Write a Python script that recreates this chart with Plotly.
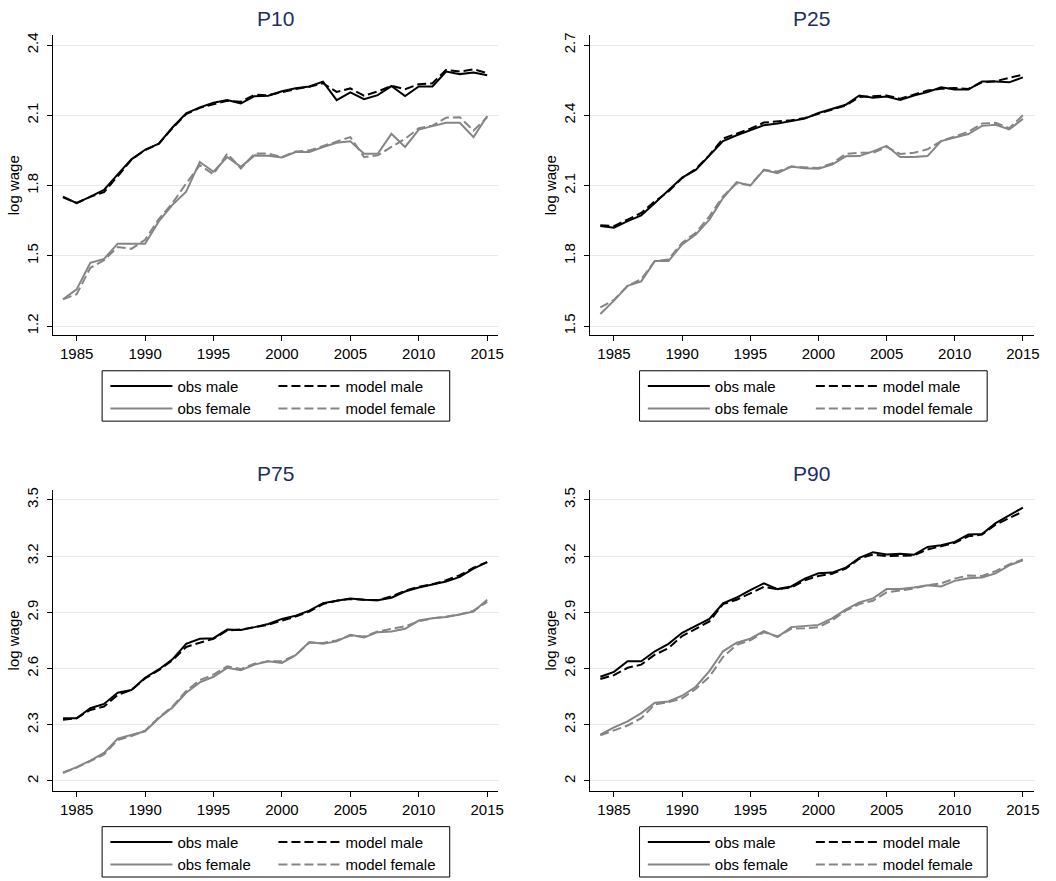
import plotly.graph_objects as go

# ---------------------------------------------------------------------------
# Data: log wage percentiles by year, observed vs. model, male vs. female
# ---------------------------------------------------------------------------
years = list(range(1984, 2016))

p10_obs_male = [1.753, 1.725, 1.753, 1.782, 1.848, 1.912, 1.953, 1.979, 2.048, 2.109,
                2.134, 2.154, 2.165, 2.151, 2.182, 2.184, 2.203, 2.216, 2.223, 2.244,
                2.165, 2.198, 2.169, 2.186, 2.225, 2.182, 2.223, 2.223, 2.287, 2.276,
                2.283, 2.271]
p10_model_male = [1.750, 1.726, 1.752, 1.772, 1.840, 1.910, 1.952, 1.978, 2.045, 2.105,
                  2.132, 2.148, 2.162, 2.158, 2.188, 2.186, 2.200, 2.212, 2.222, 2.237,
                  2.200, 2.215, 2.184, 2.202, 2.226, 2.212, 2.233, 2.237, 2.294, 2.287,
                  2.297, 2.280]
p10_obs_female = [1.315, 1.357, 1.470, 1.487, 1.552, 1.552, 1.552, 1.647, 1.718, 1.774,
                  1.901, 1.859, 1.922, 1.880, 1.929, 1.927, 1.920, 1.943, 1.943, 1.965,
                  1.983, 1.989, 1.936, 1.936, 2.021, 1.965, 2.039, 2.054, 2.068, 2.068,
                  2.007, 2.097]
p10_model_female = [1.315, 1.336, 1.449, 1.482, 1.538, 1.530, 1.569, 1.657, 1.725, 1.809,
                    1.887, 1.848, 1.937, 1.873, 1.937, 1.937, 1.922, 1.946, 1.950, 1.969,
                    1.989, 2.007, 1.922, 1.929, 1.965, 2.000, 2.045, 2.056, 2.090, 2.092,
                    2.035, 2.092]

p25_obs_male = [1.927, 1.920, 1.948, 1.973, 2.026, 2.078, 2.134, 2.167, 2.230, 2.290,
                2.315, 2.336, 2.358, 2.365, 2.375, 2.386, 2.410, 2.428, 2.445, 2.485,
                2.475, 2.480, 2.466, 2.485, 2.499, 2.520, 2.510, 2.510, 2.544, 2.544,
                2.541, 2.562]
p25_model_male = [1.931, 1.927, 1.955, 1.983, 2.033, 2.075, 2.132, 2.171, 2.230, 2.301,
                  2.322, 2.343, 2.369, 2.375, 2.379, 2.389, 2.406, 2.425, 2.442, 2.478,
                  2.480, 2.485, 2.471, 2.489, 2.506, 2.513, 2.517, 2.513, 2.541, 2.546,
                  2.560, 2.574]
p25_obs_female = [1.552, 1.609, 1.672, 1.691, 1.778, 1.778, 1.849, 1.891, 1.955, 2.047,
                  2.115, 2.100, 2.167, 2.153, 2.181, 2.174, 2.172, 2.190, 2.225, 2.226,
                  2.246, 2.270, 2.222, 2.222, 2.226, 2.290, 2.305, 2.320, 2.355, 2.360,
                  2.340, 2.385]
p25_model_female = [1.580, 1.612, 1.672, 1.700, 1.778, 1.785, 1.856, 1.898, 1.969, 2.054,
                    2.110, 2.103, 2.167, 2.160, 2.181, 2.177, 2.175, 2.195, 2.235, 2.240,
                    2.240, 2.265, 2.235, 2.240, 2.255, 2.290, 2.310, 2.330, 2.365, 2.368,
                    2.345, 2.400]

p75_obs_male = [2.335, 2.335, 2.388, 2.411, 2.471, 2.485, 2.551, 2.595, 2.649, 2.732,
                2.759, 2.762, 2.808, 2.806, 2.821, 2.838, 2.865, 2.882, 2.909, 2.949,
                2.962, 2.974, 2.967, 2.964, 2.978, 3.011, 3.032, 3.046, 3.064, 3.089,
                3.133, 3.168]
p75_model_male = [2.326, 2.335, 2.379, 2.397, 2.459, 2.485, 2.547, 2.591, 2.644, 2.715,
                  2.738, 2.759, 2.803, 2.808, 2.821, 2.833, 2.856, 2.877, 2.904, 2.944,
                  2.962, 2.971, 2.967, 2.965, 2.985, 3.015, 3.036, 3.050, 3.071, 3.098,
                  3.138, 3.168]
p75_obs_female = [2.044, 2.074, 2.109, 2.150, 2.226, 2.244, 2.265, 2.335, 2.392, 2.471,
                  2.526, 2.556, 2.604, 2.591, 2.621, 2.639, 2.630, 2.671, 2.741, 2.732,
                  2.745, 2.780, 2.766, 2.794, 2.798, 2.812, 2.856, 2.868, 2.875, 2.888,
                  2.904, 2.967]
p75_model_female = [2.044, 2.071, 2.106, 2.141, 2.219, 2.240, 2.268, 2.339, 2.397, 2.480,
                    2.538, 2.568, 2.612, 2.597, 2.626, 2.639, 2.639, 2.671, 2.738, 2.736,
                    2.750, 2.776, 2.771, 2.798, 2.812, 2.826, 2.852, 2.868, 2.877, 2.889,
                    2.909, 2.956]

p90_obs_male = [2.556, 2.582, 2.639, 2.639, 2.692, 2.732, 2.791, 2.826, 2.865, 2.948,
                2.979, 3.018, 3.055, 3.024, 3.038, 3.080, 3.108, 3.112, 3.138, 3.191,
                3.221, 3.209, 3.212, 3.207, 3.249, 3.258, 3.276, 3.315, 3.318, 3.376,
                3.417, 3.459]
p90_model_male = [2.544, 2.565, 2.604, 2.621, 2.674, 2.709, 2.773, 2.812, 2.851, 2.944,
                  2.967, 3.001, 3.036, 3.024, 3.032, 3.071, 3.094, 3.106, 3.133, 3.186,
                  3.209, 3.200, 3.204, 3.204, 3.235, 3.253, 3.271, 3.306, 3.315, 3.368,
                  3.403, 3.438]
p90_obs_female = [2.247, 2.286, 2.318, 2.362, 2.418, 2.424, 2.455, 2.503, 2.586, 2.692,
                  2.738, 2.759, 2.800, 2.768, 2.821, 2.826, 2.833, 2.868, 2.914, 2.953,
                  2.974, 3.024, 3.024, 3.032, 3.045, 3.038, 3.068, 3.082, 3.086, 3.108,
                  3.151, 3.177]
p90_model_female = [2.244, 2.268, 2.296, 2.335, 2.409, 2.420, 2.441, 2.491, 2.556, 2.662,
                    2.727, 2.750, 2.794, 2.771, 2.812, 2.815, 2.821, 2.856, 2.909, 2.944,
                    2.962, 3.006, 3.015, 3.027, 3.045, 3.055, 3.080, 3.097, 3.094, 3.120,
                    3.156, 3.182]

x_ticks = [1985, 1990, 1995, 2000, 2005, 2010, 2015]
y_ticks_p10 = [1.2, 1.5, 1.8, 2.1, 2.4]
y_ticks_p25 = [1.5, 1.8, 2.1, 2.4, 2.7]
y_ticks_upper = [2, 2.3, 2.6, 2.9, 3.2, 3.5]

series_names = ["obs male", "model male", "obs female", "model female"]

# ---------------------------------------------------------------------------
# Layout geometry (pixels of a 1056 x 881 canvas)
# ---------------------------------------------------------------------------
W, H = 1056, 881
FONT = "Arial, Liberation Sans, Helvetica, sans-serif"
TITLE_COLOR = "#1e2f5e"
GRID_COLOR = "#e3ebee"
BLACK = "#000000"
GRAY = "#858585"
DASH = "9px,4px"


def fx(px):
    return px / W


def fy(px):
    return 1 - px / H


panels = [
    dict(title="P10", data=(p10_obs_male, p10_model_male, p10_obs_female, p10_model_female),
         left=53, right=501, top=32.7, bottom=334.3, yrange=[1.162, 2.441],
         yticks=y_ticks_p10, title_y=15.8, legend_dx=0),
    dict(title="P25", data=(p25_obs_male, p25_model_male, p25_obs_female, p25_model_female),
         left=593.5, right=1039.7, top=32.7, bottom=334.3, yrange=[1.462, 2.741],
         yticks=y_ticks_p25, title_y=15.8, legend_dx=540.5),
    dict(title="P75", data=(p75_obs_male, p75_model_male, p75_obs_female, p75_model_female),
         left=53, right=501, top=490.3, bottom=793.3, yrange=[1.947, 3.553],
         yticks=y_ticks_upper, title_y=473.3, legend_dx=0),
    dict(title="P90", data=(p90_obs_male, p90_model_male, p90_obs_female, p90_model_female),
         left=593.5, right=1039.7, top=490.3, bottom=793.3, yrange=[1.947, 3.553],
         yticks=y_ticks_upper, title_y=473.3, legend_dx=540.5),
]

styles = [
    dict(color=BLACK, dash="solid"),
    dict(color=BLACK, dash=DASH),
    dict(color=GRAY, dash="solid"),
    dict(color=GRAY, dash=DASH),
]

fig = go.Figure()
annotations = []
shapes = []
layout_extra = {}
legend_count = 0

for i, p in enumerate(panels):
    n = "" if i == 0 else str(i + 1)
    xa, ya = "x" + n, "y" + n
    # column 1 (obs) and column 2 (model) legends for this panel
    leg_obs = "legend" if legend_count == 0 else "legend" + str(legend_count + 1)
    leg_model = "legend" + str(legend_count + 2)
    legend_count += 2

    # draw order: obs male, model male, obs female, model female
    for k, (name, vals, st) in enumerate(zip(series_names, p["data"], styles)):
        fig.add_trace(go.Scatter(
            x=years, y=vals, mode="lines", name=name,
            line=dict(color=st["color"], dash=st["dash"], width=2),
            xaxis=xa, yaxis=ya,
            legend=leg_obs if k in (0, 2) else leg_model,
            legendrank=k,
            hoverinfo="skip",
        ))

    axis_common = dict(
        showline=True, linecolor=BLACK, linewidth=1,
        ticks="outside", ticklen=5, tickwidth=1, tickcolor=BLACK,
        tickfont=dict(family=FONT, size=15, color=BLACK),
        zeroline=False,
    )
    layout_extra["xaxis" + n] = dict(
        domain=[fx(p["left"]), fx(p["right"])], anchor=ya,
        range=[1983.25, 2015.8], tickvals=x_ticks, showgrid=False,
        **axis_common,
    )
    layout_extra["yaxis" + n] = dict(
        domain=[fy(p["bottom"]), fy(p["top"])], anchor=xa,
        range=p["yrange"], tickvals=p["yticks"], tickangle=-90,
        showgrid=True, gridcolor=GRID_COLOR, gridwidth=1,
        ticklabelstandoff=3,
        title=dict(text="log wage", font=dict(family=FONT, size=15, color=BLACK), standoff=0),
        **axis_common,
    )

    annotations.append(dict(
        text=p["title"], xref="paper", yref="paper",
        x=fx((p["left"] + p["right"]) / 2), y=fy(p["title_y"]),
        xanchor="center", yanchor="middle", showarrow=False,
        font=dict(family=FONT, size=21, color=TITLE_COLOR),
    ))

    # legend frame and the two legend columns
    box_top = p["bottom"] + 36
    box_bottom = p["bottom"] + 86.7
    dx = p["legend_dx"]
    shapes.append(dict(
        type="rect", xref="paper", yref="paper",
        x0=fx(102.7 + dx), x1=fx(452.3 + dx), y0=fy(box_bottom), y1=fy(box_top),
        line=dict(color=BLACK, width=1), fillcolor="rgba(0,0,0,0)",
    ))
    leg_style = dict(
        orientation="v", xanchor="left", yanchor="top",
        y=fy(box_top - 1.0), bgcolor="rgba(0,0,0,0)", borderwidth=0,
        itemwidth=62, tracegroupgap=0,
        font=dict(family=FONT, size=15, color=BLACK),
        itemclick=False, itemdoubleclick=False,
    )
    layout_extra[leg_obs] = dict(x=fx(106 + dx), **leg_style)
    layout_extra[leg_model] = dict(x=fx(275 + dx), **leg_style)

fig.update_layout(
    width=W, height=H,
    margin=dict(l=0, r=0, t=0, b=0),
    paper_bgcolor="white", plot_bgcolor="white",
    font=dict(family=FONT, size=15, color=BLACK),
    annotations=annotations, shapes=shapes,
    **layout_extra,
)

fig.write_html("out.html")
